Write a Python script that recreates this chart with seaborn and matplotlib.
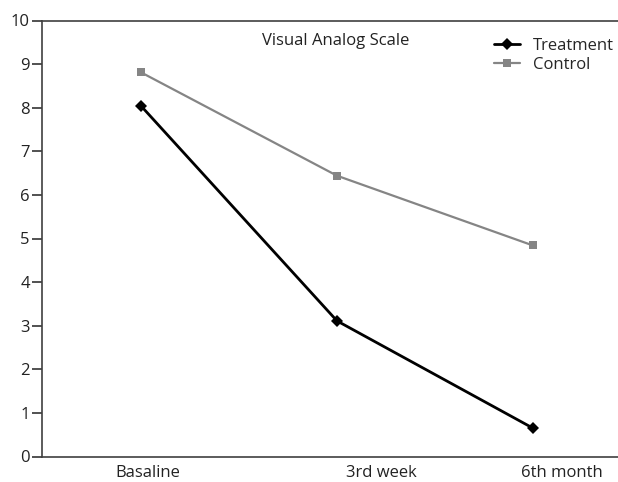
import matplotlib
matplotlib.use("Agg")
import matplotlib.pyplot as plt
import matplotlib.transforms as mtransforms
import seaborn as sns
import pandas as pd

# values
timepoints = ["Basaline", "3rd week", "6th month"]
treatment = [8.04, 3.11, 0.65]
control = [8.81, 6.44, 4.84]
y_ticks = list(range(0, 11))

df = pd.DataFrame({
    "time": timepoints * 2,
    "vas": treatment + control,
    "group": ["Treatment"] * 3 + ["Control"] * 3,
})

sns.set_theme(style="white")
plt.rcParams["font.family"] = ["Open Sans", "DejaVu Sans"]
fs = 12

fig = plt.figure(figsize=(6.18, 4.82), dpi=100)
ax = fig.add_axes([42.3 / 618, 1 - 456.5 / 482, 1 - 42.3 / 618, (456.5 - 20.5) / 482])

sns.lineplot(data=df[df.group == "Treatment"], x="time", y="vas", ax=ax,
             color="black", linewidth=2.0, marker="D", markersize=6,
             markeredgewidth=0, label="Treatment")
sns.lineplot(data=df[df.group == "Control"], x="time", y="vas", ax=ax,
             color="#858585", linewidth=1.6, marker="s", markersize=5.5,
             markeredgewidth=0, label="Control")

ax.set_xlim(-0.504, 2.434)
ax.set_ylim(0, 10)
ax.set_yticks(y_ticks)
ax.set_yticklabels([str(t) for t in y_ticks], fontsize=fs, color="#222222")
ax.set_xlabel("")
ax.set_ylabel("")

# x labels: no tick marks, labels shifted right as in the reference
ax.set_xticks(range(len(timepoints)))
ax.set_xticklabels(timepoints, fontsize=fs, color="#222222")
ax.tick_params(axis="x", length=0, pad=6)
shifts = [7, 44, 29]
for lab, dx in zip(ax.get_xticklabels(), shifts):
    lab.set_transform(lab.get_transform() + mtransforms.ScaledTranslation(dx / 100, 0, fig.dpi_scale_trans))
ax.set_xticks([-0.504], minor=True)
ax.tick_params(axis="x", which="minor", length=8, width=1.2, color="#333333", direction="out")
ax.tick_params(axis="y", length=7, width=1.2, color="#333333", direction="out", pad=2, left=True)

for side in ["left", "bottom", "top"]:
    ax.spines[side].set_visible(True)
    ax.spines[side].set_color("#404040")
    ax.spines[side].set_linewidth(1.2)
ax.spines["right"].set_visible(False)

fig.text(336 / 618, 1 - 41 / 482, "Visual Analog Scale", ha="center", va="center",
         fontsize=fs, color="#222222")

ax.legend(loc="upper left", bbox_to_anchor=(494 / 618, 1 - 38 / 482),
          bbox_transform=fig.transFigure, frameon=False, borderaxespad=0,
          borderpad=0, handlelength=1.56, handletextpad=0.78, labelspacing=0.2,
          fontsize=fs)

fig.savefig("out.png", dpi=100)
